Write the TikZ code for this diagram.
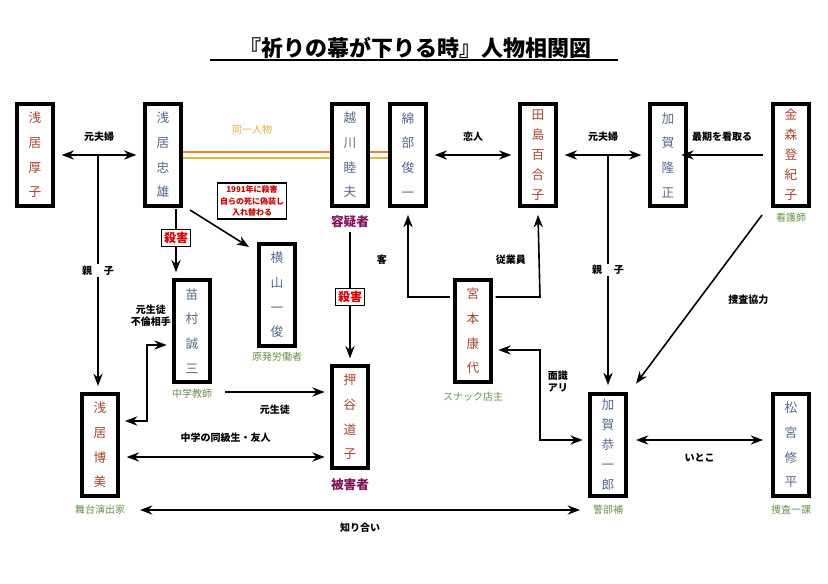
\documentclass[tikz,border=0pt]{standalone}
\usepackage{fontspec}
\setmainfont{Noto Sans CJK JP}
\usetikzlibrary{positioning,arrows.meta}
\definecolor{male}{RGB}{85,105,140}
\definecolor{female}{RGB}{165,70,45}
\definecolor{job}{RGB}{100,145,70}
\definecolor{role}{RGB}{130,20,90}
\definecolor{same1}{RGB}{235,130,40}
\definecolor{same2}{RGB}{225,185,50}

\begin{document}
\begin{tikzpicture}[
  x=0.75pt, y=-0.75pt,
  person/.style = {
    draw,
    line width = 3pt,
    fill = white,
    align = center,
    minimum width = 27pt,
    minimum height = 77pt,
    inner sep = 1pt,
    font = \fontsize{9.5}{18.5}\selectfont,
  },
  long/.style = {font = \fontsize{9.5}{15}\selectfont},
  lab/.style = {font = \bfseries\fontsize{7.5}{9}\selectfont},
  job/.style = {text = job, font = \fontsize{7.5}{9}\selectfont},
  role/.style = {text = role, font = \bfseries\fontsize{9.5}{11}\selectfont},
  kill/.style = {draw, line width = 1.2pt, fill = white, text = red!85!black,
    font = \bfseries\fontsize{9}{11}\selectfont, inner sep = 2pt},
  rel/.style = {line width = 1.2pt},
  >={Stealth[scale=1.1]},
]
  \useasboundingbox (0,0) rectangle (828,584);

  \node[font=\bfseries\fontsize{16.5}{20}\selectfont] (title) at (415,48) {『祈りの幕が下りる時』人物相関図};
  \draw[line width=1.2pt] (210,60) -- (618,60);

  % top row
  \node[person,text=female] (atsuko) at (35,155) {浅\\居\\厚\\子};
  \node[person,text=male] (tadao) at (163,155) {浅\\居\\忠\\雄};
  \node[person,text=male] (koshikawa) at (350,155) {越\\川\\睦\\夫};
  \node[person,text=male] (watabe) at (408,155) {綿\\部\\俊\\一};
  \node[person,text=female,long] (yuriko) at (538,155) {田\\島\\百\\合\\子};
  \node[person,text=male] (takamasa) at (668,155) {加\\賀\\隆\\正};
  \node[person,text=female,long] (tokiko) at (791,155) {金\\森\\登\\紀\\子};

  % middle row
  \node[person,text=male] (yokoyama) at (277,295) {横\\山\\一\\俊};
  \node[person,text=male] (naemura) at (192,331) {苗\\村\\誠\\三};
  \node[person,text=female] (yasuyo) at (473,331) {宮\\本\\康\\代};

  % bottom row
  \node[person,text=female] (oshitani) at (350,417) {押\\谷\\道\\子};
  \node[person,text=female] (hiromi) at (100,445) {浅\\居\\博\\美};
  \node[person,text=male,long] (kyoichiro) at (608,445) {加\\賀\\恭\\一\\郎};
  \node[person,text=male] (matsumiya) at (791,445) {松\\宮\\修\\平};

  % sub labels
  \node[job] (j1) at (277,357) {原発労働者};
  \node[job] (j2) at (192,394) {中学教師};
  \node[job] (j3) at (473,397) {スナック店主};
  \node[job] (j4) at (791,218) {看護師};
  \node[job] (j5) at (100,510) {舞台演出家};
  \node[job] (j6) at (608,510) {警部補};
  \node[job] (j7) at (791,510) {捜査一課};
  \node[role] (r1) at (350,222) {容疑者};
  \node[role] (r2) at (350,485) {被害者};

  % same person
  \draw[same1,line width=1.5pt] ([yshift=2pt]tadao.east) -- ([yshift=2pt]koshikawa.west)
    ([yshift=2pt]koshikawa.east) -- ([yshift=2pt]watabe.west);
  \draw[same2,line width=1.5pt] ([yshift=-2pt]tadao.east) -- ([yshift=-2pt]koshikawa.west)
    ([yshift=-2pt]koshikawa.east) -- ([yshift=-2pt]watabe.west);
  \node[lab,text=same2!80!same1,font=\fontsize{7.5}{9}\selectfont] at (252,130) {同一人物};

  % relations
  \draw[rel,<->] ([xshift=5pt]atsuko.east) -- node[lab,above=6pt] {元夫婦} ([xshift=-5pt]tadao.west);
  \coordinate (c1) at (98,155);
  \draw[rel,->] (c1) -- node[lab,fill=white,inner sep=1pt] {親\hspace{1.2em}子} (98,386);
  \draw[rel,<->] ([xshift=5pt]watabe.east) -- node[lab,above=6pt] {恋人} ([xshift=-5pt]yuriko.west);
  \draw[rel,<->] ([xshift=5pt]yuriko.east) -- node[lab,above=6pt] {元夫婦} ([xshift=-5pt]takamasa.west);
  \coordinate (c2) at (608,155);
  \draw[rel,->] (c2) -- node[lab,fill=white,inner sep=1pt] {親\hspace{1.2em}子} ([yshift=5pt]kyoichiro.north);
  \draw[rel,->] ([xshift=-6pt]tokiko.west) -- node[lab,above=6pt] {最期を看取る} ([xshift=-5pt]takamasa.east);

  \node[kill] (k1) at (176,238) {殺害};
  \draw[rel] (176,209) -- (k1.north);
  \draw[rel,->] (k1.south) -- ([yshift=4pt]naemura.north -| k1);
  \draw[rel,->] (190,210) -- ([xshift=-6pt,yshift=-4pt]yokoyama.north west);
  \node[draw,line width=1.2pt,fill=white,align=center,text=red!80!black,
    font=\bfseries\fontsize{6}{8.5}\selectfont,inner sep=2pt] (note) at (252,201)
    {1991年に殺害\\自らの死に偽装し\\入れ替わる};

  \node[kill] (k2) at (350,297) {殺害};
  \draw[rel] (350,232) -- (k2.north);
  \draw[rel,->] (k2.south) -- ([yshift=4pt]oshitani.north);

  \draw[rel,<->] (125,421) -- (147,421) -- (147,345) -- node[lab,above=10pt,pos=0.2,align=center] {元生徒\\不倫相手} ([xshift=-4pt]naemura.west |- 0,345);
  \draw[rel,->] (225,392) -- node[lab,below=6pt] {元生徒} ([xshift=-4pt]oshitani.west |- 0,392);
  \draw[rel,<->] ([xshift=5pt]hiromi.east |- 0,457) -- node[lab,above=7pt] {中学の同級生・友人} ([xshift=-4pt]oshitani.west |- 0,457);

  \coordinate (y1) at (yasuyo.west |- 0,297);
  \coordinate (y2) at (yasuyo.east |- 0,297);
  \draw[rel,->] ([xshift=-2pt]y1) -- (408,297) -- node[lab,left=12pt,pos=0.45] {客} ([yshift=-5pt]watabe.south);
  \draw[rel,->] ([xshift=2pt]y2) -- (540,297) -- node[lab,left=6pt,pos=0.45] {従業員} ([yshift=-5pt]yuriko.south);
  \draw[rel,<->] ([xshift=4pt]yasuyo.east |- 0,350) -- (540,350) -- node[lab,right=2pt,pos=0.35,align=left] {面識\\アリ} (540,440) -- ([xshift=-4pt]kyoichiro.west |- 0,440);

  \draw[rel,->] (762,215) -- node[lab,right=18pt] {捜査協力} ([xshift=6pt,yshift=6pt]kyoichiro.north east);
  \draw[rel,<->] ([xshift=6pt]kyoichiro.east |- 0,440) -- node[lab,below=6pt] {いとこ} ([xshift=-6pt]matsumiya.west |- 0,440);
  \draw[rel,<->] (140,510) -- node[lab,below=6pt] {知り合い} (580,510);
\end{tikzpicture}
\end{document}
